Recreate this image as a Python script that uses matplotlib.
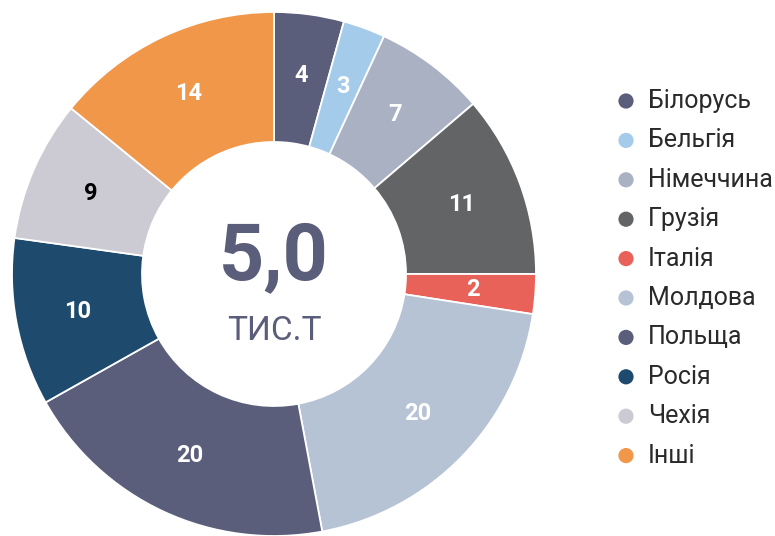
import matplotlib
matplotlib.use("Agg")
import matplotlib.pyplot as plt
import numpy as np

categories = ["Білорусь", "Бельгія", "Німеччина", "Грузія", "Італія",
              "Молдова", "Польща", "Росія", "Чехія", "Інші"]
shares = [4.3, 2.6, 6.85, 11.25, 2.45, 19.6, 19.8, 10.35, 8.7, 14.1]
labels = ["4", "3", "7", "11", "2", "20", "20", "10", "9", "14"]
colors = ["#5a5e7a", "#a4cbea", "#a9b1c3", "#636466", "#e8625a",
          "#b6c3d5", "#5a5e7a", "#1e4a6e", "#cccad3", "#f0974a"]
label_colors = ["white"] * 8 + ["black", "white"]
total_text = "5,0"
unit_text = "ТИС.Т"

plt.rcParams['font.family'] = ['Roboto', 'DejaVu Sans']

W, H = 775, 536
fig = plt.figure(figsize=(W / 100, H / 100), dpi=100)
ax = fig.add_axes([0, 0, 1, 1])

cx, cy, R, r_in = 274, H - 274, 262, 132
ax.pie(shares, colors=colors, startangle=90, counterclock=False,
       center=(cx, cy), radius=R,
       wedgeprops=dict(width=R - r_in, edgecolor='white', linewidth=1.3),
       frame=True)
ax.set_xlim(0, W)
ax.set_ylim(0, H)
ax.set_aspect('equal')
ax.axis('off')

cum = np.cumsum([0] + shares)
tot = sum(shares)
rl = 200
for i, v in enumerate(shares):
    mid = 90 - 360 * (cum[i] + v / 2) / tot
    x = cx + rl * np.cos(np.radians(mid))
    y = cy + rl * np.sin(np.radians(mid))
    ax.text(x, y, labels[i], ha='center', va='center', fontsize=17,
            fontweight='bold', color=label_colors[i])

ax.text(cx, H - 258, total_text, ha='center', va='center', fontsize=57,
        fontweight='bold', color="#5a5e7a")
ax.text(cx, H - 331, unit_text, ha='center', va='center', fontsize=24,
        color="#5a5e7a")

y0, dy = 101, 39.4
for i, (c, col) in enumerate(zip(categories, colors)):
    y = H - (y0 + i * dy)
    ax.scatter([626], [y], s=120, color=col, edgecolors='none')
    ax.text(648, y, c, ha='left', va='center', fontsize=18, color="#2a2a2a")

fig.savefig("out.png", dpi=100)
